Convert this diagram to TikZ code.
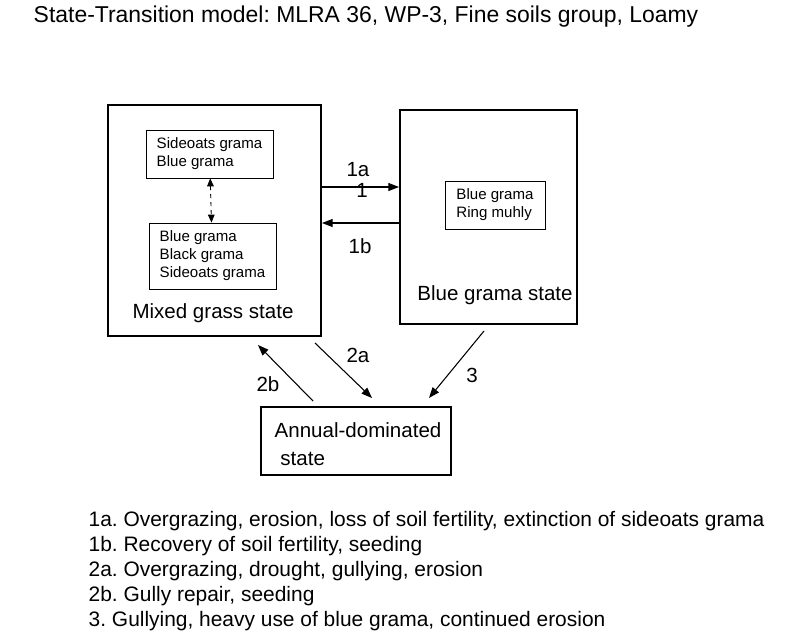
\documentclass[tikz,border=0pt]{standalone}
\usepackage{fontspec}
\setmainfont{Liberation Sans}
\usetikzlibrary{arrows.meta}

\begin{document}
\frenchspacing
\begin{tikzpicture}[x=0.75pt,y=0.75pt,yscale=-1,xscale=1,
    state/.style={draw,line width=1.6pt,inner sep=0pt},
    spec/.style={draw,line width=0.6pt,align=left,font=\fontsize{11.3}{13.5}\selectfont},
    trans/.style={-{Triangle[length=8pt,width=6pt]},line width=0.8pt},
    lbl/.style={font=\fontsize{15.4}{18}\selectfont},
    legend/.style={anchor=west,font=\fontsize{15.7}{17}\selectfont}]
        \useasboundingbox (0,0) rectangle (800,639);
        % states
        \draw[state] (108,105) rectangle (321,336);
        \draw[state] (400,110) rectangle (577,324);
        \node[state,minimum width=190*0.75pt,minimum height=68*0.75pt] (annual) at (356,441) {};
        \node[spec,minimum width=127*0.75pt,minimum height=48*0.75pt] (sg) at (209.5,154) {Sideoats grama\\Blue grama};
        \node[spec,minimum width=127*0.75pt,minimum height=66*0.75pt] (bg) at (212.5,256) {Blue grama\\Black grama\\Sideoats grama};
        \node[spec,minimum width=100*0.75pt,minimum height=48*0.75pt] (br) at (495,205) {Blue grama\\Ring muhly};
        \node[lbl] (mixed) at (213,313) {Mixed grass state};
        \node[lbl] (blue) at (495,295) {Blue grama state};
        \node[lbl,align=left,anchor=west,font=\fontsize{15.4}{21}\selectfont] at (270,444) {Annual-dominated\\\ state};
        % transitions
        \coordinate (a1s) at (322,187);
        \coordinate (a1e) at (399,187);
        \coordinate (b1s) at (400,223);
        \coordinate (b1e) at (322,223);
        \draw[trans] (a1s) -- (a1e);
        \draw[trans] (b1s) -- (b1e);
        \draw[{Triangle[length=6pt,width=5pt]}-{Triangle[length=6pt,width=5pt]},dashed,line width=0.7pt] (sg) -- (bg);
        \coordinate (a2s) at (315,343);
        \coordinate (a2e) at (372,398);
        \coordinate (b2s) at (313,401);
        \coordinate (b2e) at (258,345);
        \coordinate (c3s) at (484,331);
        \coordinate (c3e) at (429,398);
        \draw[trans] (a2s) -- (a2e);
        \draw[trans] (b2s) -- (b2e);
        \draw[trans] (c3s) -- (c3e);
        \node[lbl] at (358,170) {1a};
        \node[lbl] at (362,190) {1};
        \node[lbl] at (360,246) {1b};
        \node[lbl] at (358,355) {2a};
        \node[lbl] at (268,384) {2b};
        \node[lbl] at (472,375) {3};
        % title and legend
        \node[anchor=west,font=\fontsize{17.2}{19}\selectfont] at (29,17) {State-Transition model: MLRA 36, WP-3, Fine soils group, Loamy};
        \node[legend] at (84,521) {1a. Overgrazing, erosion, loss of soil fertility, extinction of sideoats grama};
        \node[legend] at (84,546) {1b. Recovery of soil fertility, seeding};
        \node[legend] at (84,571) {2a. Overgrazing, drought, gullying, erosion};
        \node[legend] at (84,596) {2b. Gully repair, seeding};
        \node[legend] at (84,621) {3. Gullying, heavy use of blue grama, continued erosion};
\end{tikzpicture}
\end{document}
